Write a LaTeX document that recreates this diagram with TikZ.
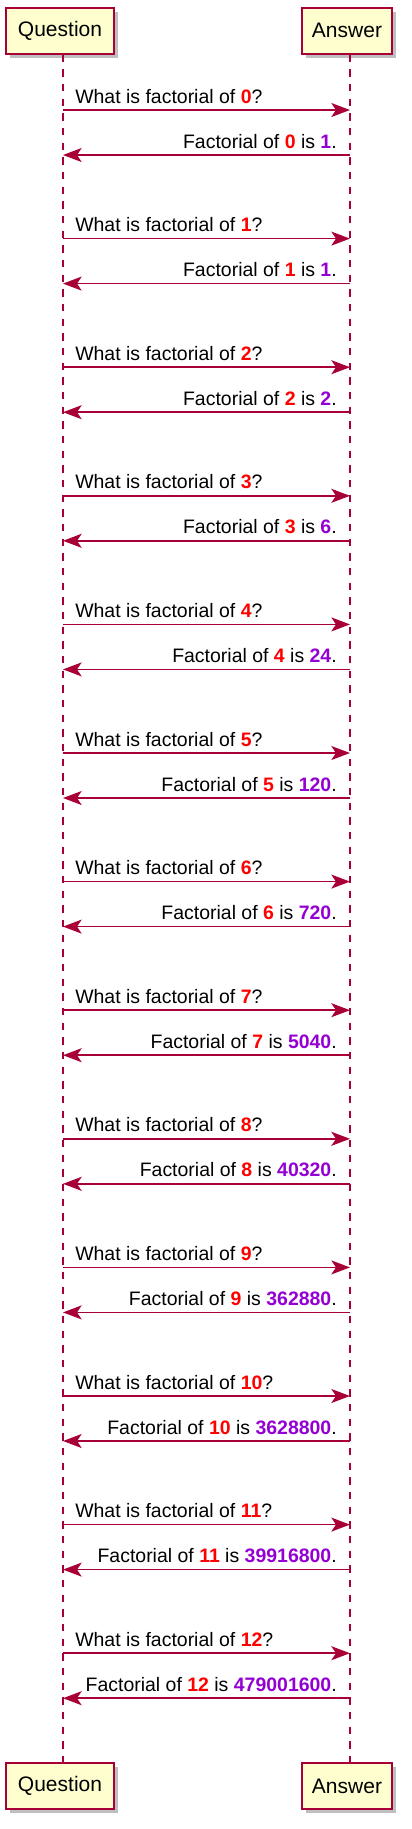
\documentclass[tikz,border=0pt]{standalone}
\usepackage{fontspec}
\setmainfont{Liberation Sans}
\usetikzlibrary{positioning, arrows.meta, shadows}
\definecolor{umlred}{HTML}{A80036}
\definecolor{umlfill}{HTML}{FEFECE}
\definecolor{numred}{HTML}{FF0000}
\definecolor{numviolet}{HTML}{9400D3}

\begin{document}
\begin{tikzpicture}[
                x=0.75pt, y=-0.75pt,
                >={Stealth[length=14pt, width=10.5pt, inset=3.5pt]},
                participant/.style={draw=umlred, line width=1.5pt, fill=umlfill, minimum height=34.5pt, inner sep=0pt,
                    font=\fontsize{15.75pt}{18pt}\selectfont,
                    drop shadow={shadow xshift=3pt, shadow yshift=-3pt, fill=black, opacity=0.25}},
                lifeline/.style={draw=umlred, line width=1.1pt, dash pattern=on 5.5pt off 5.5pt},
                message/.style={draw=umlred, line width=1.1pt, ->},
                msgtext/.style={inner sep=0pt, font=\fontsize{14.6pt}{17pt}\selectfont},
            ]
                \useasboundingbox (0,0) rectangle (411,1829);

                % Draw the participants, top and bottom
                \node[participant, minimum width=81pt] (qtop) at (60,30.5) {Question};
                \node[participant, minimum width=67.5pt] (atop) at (347,30.5) {Answer};
                \node[participant, minimum width=81pt] (qbot) at (60,1786) {Question};
                \node[participant, minimum width=67.5pt] (abot) at (347,1786) {Answer};

                % Draw the lifelines
                \draw[lifeline] ([xshift=2.25pt]qtop.south) -- ([xshift=2.25pt]qbot.north);
                \draw[lifeline] ([xshift=2.25pt]atop.south) -- ([xshift=2.25pt]abot.north);

                % One question and one answer for every n
                \foreach \k / \f in {0/1, 1/1, 2/2, 3/6, 4/24, 5/120, 6/720, 7/5040, 8/40320,
                                     9/362880, 10/3628800, 11/39916800, 12/479001600} {
                    \pgfmathsetmacro{\yf}{110+128.6*\k}
                    \pgfmathsetmacro{\yr}{\yf+45}
                    \coordinate (q-f\k) at (63,\yf);
                    \coordinate (a-f\k) at (350,\yf);
                    \coordinate (q-r\k) at (63,\yr);
                    \coordinate (a-r\k) at (350,\yr);
                    \draw[message] (q-f\k) -- (a-f\k);
                    \node[msgtext, anchor=base west] (ask-\k) at (75,{\yf-7})
                        {What is factorial of \textcolor{numred}{\textbf{\k}}?};
                    \draw[message] (a-r\k) -- (q-r\k);
                    \node[msgtext, anchor=base east] (reply-\k) at (337,{\yr-7})
                        {Factorial of \textcolor{numred}{\textbf{\k}} is \textcolor{numviolet}{\textbf{\f}}.};
                }
            \end{tikzpicture}
\end{document}
